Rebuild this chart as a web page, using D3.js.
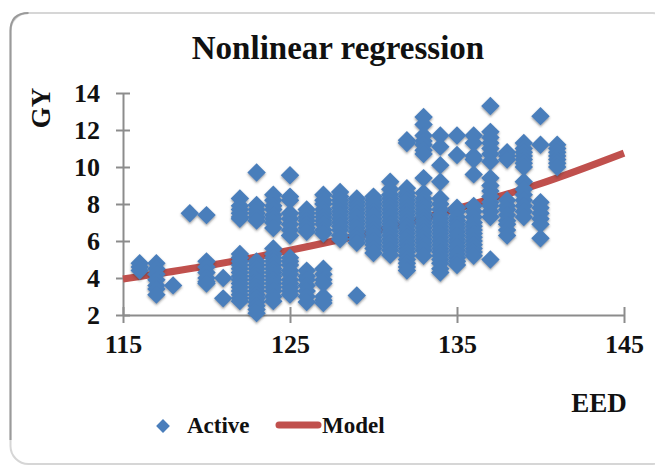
<!DOCTYPE html>
<meta charset="utf-8">
<style>
    body { margin: 0; background: #fff; }
    text { font-family: "Liberation Serif", serif; font-weight: bold; fill: #111; }
    .domain, .tick line { stroke: #8c8c8c; stroke-width: 2; }
</style>
<body>
<script src="https://d3js.org/d3.v7.min.js"></script>
<script>
    const chartTitle = "Nonlinear regression";
    const xTicks = [115, 125, 135, 145];
    const yTicks = [2, 4, 6, 8, 10, 12, 14];

    // one entry per EED value, the GY readings stacked on it
    const eedColumns = [116, 117, 118, 119, 120, 121, 122, 123, 124, 125, 126, 127, 128, 129, 130,
        131, 132, 133, 134, 135, 136, 137, 138, 139, 140, 141];
    const gyColumns = [
        [4.8, 4.6, 4.4],
        [4.8, 4.5, 4.2, 3.9, 3.6, 3.4, 3.1],
        [3.6],
        [7.5],
        [7.4, 4.9, 4.6, 4.3, 4.0, 3.8, 3.7],
        [4.0, 2.9],
        [8.3, 7.9, 7.7, 7.5, 7.3, 7.2, 5.3, 5.1, 4.9, 4.7, 4.5, 4.3, 4.1, 3.9, 3.7, 3.5, 3.3, 3.1, 2.9, 2.75],
        [9.7, 7.95, 7.7, 7.5, 7.3, 7.1, 4.9, 4.7, 4.5, 4.3, 4.1, 3.9, 3.7, 3.5, 3.3, 3.1, 2.9, 2.7, 2.5, 2.3, 2.1],
        [8.5, 8.2, 7.9, 7.7, 7.4, 7.2, 7.0, 6.7, 5.6, 5.3, 5.1, 4.9, 4.7, 4.5, 4.3, 4.1, 3.9, 3.7, 3.5, 3.3, 3.0, 2.75],
        [9.55, 8.4, 8.2, 7.5, 7.2, 6.9, 6.6, 6.3, 5.1, 4.9, 4.7, 4.4, 4.2, 3.9, 3.7, 3.5, 3.3, 3.1],
        [7.7, 7.5, 7.3, 7.1, 6.9, 6.7, 6.5, 4.4, 4.1, 3.9, 3.6, 3.3, 3.0, 2.7],
        [8.5, 8.2, 8.0, 7.7, 7.5, 7.3, 7.1, 6.9, 6.6, 6.4, 4.5, 4.2, 3.9, 3.7, 3.0, 2.8, 2.65],
        [8.65, 8.4, 8.2, 8.0, 7.8, 7.6, 7.4, 7.2, 7.0, 6.8, 6.6, 6.3, 6.1],
        [8.3, 8.1, 7.9, 7.7, 7.5, 7.3, 7.1, 6.9, 6.7, 6.5, 6.3, 6.1, 5.9, 3.05],
        [8.4, 8.2, 8.0, 7.8, 7.6, 7.4, 7.2, 7.0, 6.8, 6.6, 6.4, 6.2, 6.0, 5.8, 5.6, 5.35],
        [9.2, 8.8, 8.5, 8.3, 8.1, 7.9, 7.7, 7.5, 7.3, 7.1, 6.9, 6.7, 6.5, 6.3, 6.1, 5.9, 5.7, 5.5, 5.25],
        [11.45, 11.3, 8.85, 8.6, 8.4, 8.2, 8.0, 7.8, 7.6, 7.4, 7.2, 7.0, 6.8, 6.6, 6.4, 6.2, 6.0, 5.8, 5.6, 5.4, 5.2, 5.0, 4.8, 4.6, 4.4],
        [12.7, 12.3, 11.7, 11.4, 11.2, 10.9, 10.7, 9.4, 8.6, 8.3, 8.1, 7.9, 7.7, 7.5, 7.3, 7.1, 6.9, 6.7, 6.5, 6.3, 6.1, 5.9, 5.7, 5.5, 5.2],
        [11.7, 11.1, 10.1, 9.2, 8.3, 8.0, 7.7, 7.4, 7.2, 7.0, 6.8, 6.6, 6.4, 6.2, 6.0, 5.8, 5.6, 5.4, 5.2, 5.0, 4.8, 4.5, 4.3],
        [11.7, 10.65, 7.8, 7.6, 7.3, 7.1, 6.9, 6.7, 6.5, 6.3, 6.1, 5.9, 5.7, 5.5, 5.3, 5.1, 4.9, 4.7],
        [11.7, 11.3, 10.6, 10.4, 9.6, 7.9, 7.6, 7.3, 7.0, 6.8, 6.6, 6.4, 6.2, 6.0, 5.8, 5.6, 5.4, 5.2],
        [13.3, 11.9, 11.6, 11.3, 11.0, 10.7, 10.3, 9.4, 9.0, 8.7, 8.4, 8.1, 7.9, 7.6, 7.3, 5.0],
        [10.8, 10.6, 10.4, 8.2, 7.9, 7.7, 7.4, 7.1, 6.9, 6.6, 6.3],
        [11.3, 11.0, 10.8, 10.6, 10.4, 10.2, 10.0, 9.2, 8.8, 8.5, 8.2, 7.9, 7.6, 7.3],
        [12.75, 11.2, 8.1, 7.8, 7.5, 7.2, 6.9, 6.15],
        [11.2, 11.0, 10.8, 10.6, 10.4, 10.2, 10.0]
    ];

    const modelEed = [115, 120, 125, 130, 135, 140, 145];
    const modelGy = [3.95, 4.65, 5.5, 6.5, 7.75, 9.1, 10.75];

    const svg = d3.select("body").append("svg")
        .attr("width", 655)
        .attr("height", 466);

    const defs = svg.append("defs");
    const shadow = defs.append("filter").attr("id", "shadow")
        .attr("x", "-5%").attr("y", "-5%").attr("width", "110%").attr("height", "110%");
    shadow.append("feDropShadow")
        .attr("dx", 0).attr("dy", 1.5).attr("stdDeviation", 1)
        .attr("flood-color", "#333").attr("flood-opacity", 0.5);

    // chart frame, runs off the right side of the picture
    svg.append("rect")
        .attr("x", 10.5).attr("y", 13)
        .attr("width", 660).attr("height", 451)
        .attr("rx", 18)
        .attr("fill", "#fff")
        .attr("stroke", "#d6d6d6")
        .attr("stroke-width", 2);
    svg.append("path")
        .attr("d", "M10.5,440V31Q10.5,13 28.5,13")
        .attr("fill", "none").attr("stroke", "#9a9a9a").attr("stroke-width", 2);

    const x = d3.scaleLinear().domain([115, 145]).range([123, 624]);
    const y = d3.scaleLinear().domain([2, 14]).range([315, 93]);

    const xAxis = svg.append("g")
        .attr("transform", "translate(0,315)")
        .call(d3.axisBottom(x).tickValues(xTicks).tickSize(8).tickPadding(12).tickSizeOuter(0));
    xAxis.selectAll(".tick line").attr("y1", -8).attr("y2", 8);
    xAxis.selectAll("text").style("font-size", "26px").style("font-family", null);

    const yAxis = svg.append("g")
        .attr("transform", "translate(123,0)")
        .call(d3.axisLeft(y).tickValues(yTicks).tickSize(7).tickPadding(16).tickSizeOuter(0));
    yAxis.selectAll(".tick line").attr("x1", -7).attr("x2", 7);
    yAxis.selectAll("text").style("font-size", "26px").style("font-family", null);

    // model goes under the points
    const modelLine = d3.line()
        .x((d, i) => x(modelEed[i]))
        .y(d => y(d))
        .curve(d3.curveMonotoneX);
    svg.append("path")
        .attr("d", modelLine(modelGy))
        .attr("fill", "none")
        .attr("stroke", "#c0504d")
        .attr("stroke-width", 7);

    const diamond = d3.symbol().type(d3.symbolSquare).size(170);
    const active = eedColumns.flatMap((eed, i) => gyColumns[i].map(gy => ({eed: eed, gy: gy})));

    svg.append("g")
        .attr("filter", "url(#shadow)")
        .selectAll("path")
        .data(active)
        .join("path")
        .attr("d", diamond)
        .attr("transform", d => "translate(" + x(d.eed) + "," + y(d.gy) + ") rotate(45)")
        .attr("fill", "#4a7ebb");

    svg.append("text")
        .attr("x", 338).attr("y", 59)
        .attr("text-anchor", "middle")
        .style("font-size", "33px")
        .text(chartTitle);

    svg.append("text")
        .attr("transform", "translate(50,108) rotate(-90)")
        .attr("text-anchor", "middle")
        .style("font-size", "27px")
        .text("GY");

    svg.append("text")
        .attr("x", 599).attr("y", 412)
        .attr("text-anchor", "middle")
        .style("font-size", "27px")
        .text("EED");

    // legend
    svg.append("path")
        .attr("d", d3.symbol().type(d3.symbolSquare).size(95))
        .attr("transform", "translate(163,426) rotate(45)")
        .attr("fill", "#4a7ebb");
    svg.append("text").attr("x", 187).attr("y", 433).style("font-size", "23px").text("Active");
    svg.append("line")
        .attr("x1", 279).attr("x2", 318)
        .attr("y1", 425).attr("y2", 425)
        .attr("stroke", "#c0504d")
        .attr("stroke-width", 7)
        .attr("stroke-linecap", "round");
    svg.append("text").attr("x", 322).attr("y", 433).style("font-size", "23px").text("Model");
</script>
</body>
